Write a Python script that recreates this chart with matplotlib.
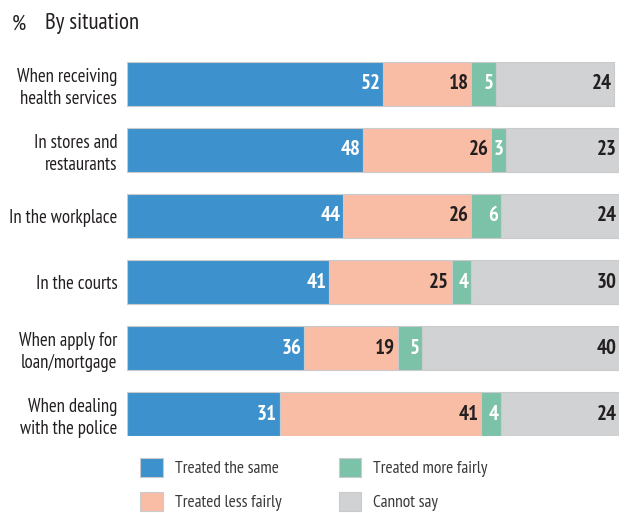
import matplotlib
matplotlib.use("Agg")
import matplotlib.pyplot as plt
import numpy as np

plt.rcParams["font.family"] = ["PT Sans Narrow", "Fira Sans Condensed", "DejaVu Sans"]

categories = ["When receiving\nhealth services", "In stores and\nrestaurants", "In the workplace",
              "In the courts", "When apply for\nloan/mortgage", "When dealing\nwith the police"]
series_names = ["Treated the same", "Treated less fairly", "Treated more fairly", "Cannot say"]
same = [52, 48, 44, 41, 36, 31]
less = [18, 26, 26, 25, 19, 41]
more = [5, 3, 6, 4, 5, 4]
cannot = [24, 23, 24, 30, 40, 24]

colors = ["#3d92cd", "#f9bda6", "#7cc2a8", "#d1d2d4"]
txt_colors = ["white", "#231f20", "white", "#231f20"]

fig = plt.figure(figsize=(6.24, 5.13), dpi=100)
ax = fig.add_axes([127/624, 77/513, 492/624, 374/513])

y = np.arange(len(categories))
left = np.zeros(len(categories))
handles = []
for vals, c, tc, name in zip([same, less, more, cannot], colors, txt_colors, series_names):
    vals = np.array(vals, dtype=float)
    b = ax.barh(y, vals, left=left, height=0.667, color=c, edgecolor="#c9cacc",
                linewidth=0.8, label=name)
    handles.append(b)
    for yi, l, v in zip(y, left, vals):
        ax.text(l + v - 0.5, yi, f"{int(v)}", ha="right", va="center",
                color=tc, fontsize=15, fontweight="bold")
    left += vals

ax.set_xlim(0, 100)
ax.set_ylim(5.333, -0.333)
ax.set_yticks(y)
ax.set_yticklabels(categories, fontsize=13.5, color="#231f20", linespacing=1.3)
ax.tick_params(axis="y", length=0, pad=7)
ax.set_xticks([])
for s in ax.spines.values():
    s.set_visible(False)

fig.text(12/624, 1 - 24/513, "%", fontsize=16, va="center", ha="left", color="#231f20")
fig.text(45/624, 1 - 24/513, "By situation", fontsize=16.5, va="center", ha="left", color="#231f20")

leg = fig.legend(handles=handles, labels=series_names, ncol=2, loc="upper left",
                 bbox_to_anchor=(140/624, 1 - 458/513), frameon=False, fontsize=12.5,
                 handlelength=1.3, handleheight=1.3, labelspacing=0.85, borderpad=0,
                 borderaxespad=0, columnspacing=3.3, handletextpad=0.7, labelcolor="#3a3a3a")

fig.savefig("out.png", dpi=100)
